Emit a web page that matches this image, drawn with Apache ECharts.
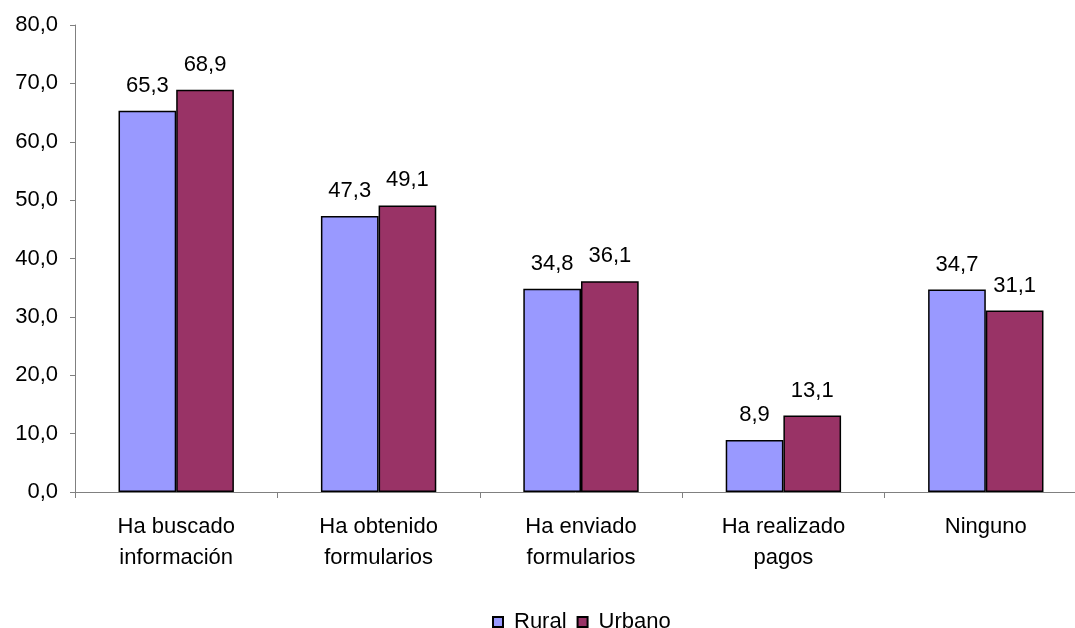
<!DOCTYPE html>
<html><head><meta charset="utf-8">
<script src="https://cdn.jsdelivr.net/npm/echarts@6/dist/echarts.min.js"></script>
<style>html,body{margin:0;padding:0;background:#fff}#c{width:1075px;height:628px}</style>
</head><body><div id="c"></div>
<script>
const categories = ["Ha buscado\ninformación", "Ha obtenido\nformularios", "Ha enviado\nformularios", "Ha realizado\npagos", "Ninguno"];
const rural = [65.3, 47.3, 34.8, 8.9, 34.7];
const urbano = [68.9, 49.1, 36.1, 13.1, 31.1];
const seriesNames = ["Rural", "Urbano"];
const fmt = v => v.toFixed(1).replace('.', ',');
const font = "'Liberation Sans', Arial, sans-serif";
const chart = echarts.init(document.getElementById('c'));
chart.setOption({
  animation: false,
  textStyle: { fontFamily: font },
  grid: { left: 75, width: 1012, top: 25, height: 467, containLabel: false, outerBoundsMode: 'none' },
  legend: {
    data: seriesNames, top: 606, left: 487, itemWidth: 10, itemHeight: 10, itemGap: 10,
    textStyle: { fontSize: 22, color: '#000', fontFamily: font, padding: [0, 0, 0, 6] },
    icon: 'rect'
  },
  xAxis: {
    type: 'category', data: categories,
    axisLine: { lineStyle: { color: '#808080', width: 1 } },
    axisTick: { show: true, length: 6, lineStyle: { color: '#808080' }, alignWithLabel: false },
    axisLabel: { fontSize: 22, color: '#000', lineHeight: 31, margin: 19, fontFamily: font }
  },
  yAxis: {
    type: 'value', min: 0, max: 80, interval: 10,
    splitLine: { show: false },
    axisLine: { show: true, lineStyle: { color: '#808080', width: 1 } },
    axisTick: { show: true, length: 5, lineStyle: { color: '#808080' } },
    axisLabel: { fontSize: 22, color: '#000', margin: 17, formatter: v => fmt(v), fontFamily: font }
  },
  series: [
    { name: seriesNames[0], type: 'bar', data: rural, barGap: '0%', barCategoryGap: '43%',
      itemStyle: { color: '#9999FF', borderColor: '#000', borderWidth: 1.5 },
      label: { show: true, position: 'top', distance: 14, fontSize: 22, color: '#000', formatter: p => fmt(p.value), fontFamily: font } },
    { name: seriesNames[1], type: 'bar', data: urbano, barGap: '0%', barCategoryGap: '43%',
      itemStyle: { color: '#993366', borderColor: '#000', borderWidth: 1.5 },
      label: { show: true, position: 'top', distance: 14, fontSize: 22, color: '#000', formatter: p => fmt(p.value), fontFamily: font } }
  ]
});
</script></body></html>
